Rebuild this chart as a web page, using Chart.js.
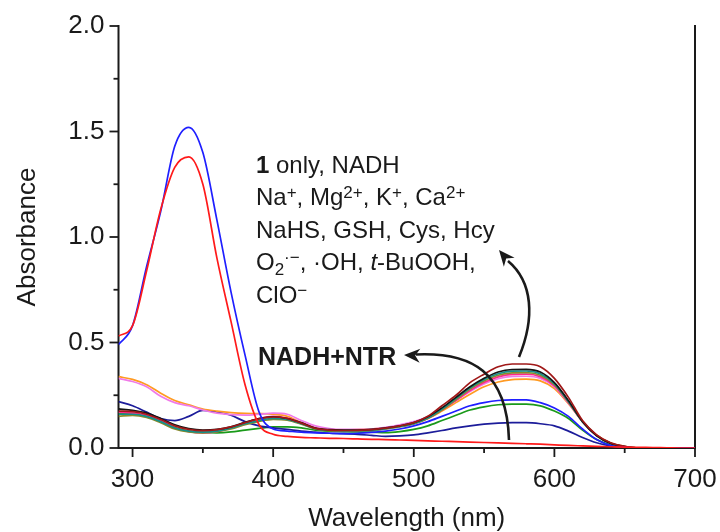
<!DOCTYPE html>
<html><head><meta charset="utf-8">
<script src="https://cdn.jsdelivr.net/npm/chart.js@4/dist/chart.umd.min.js"></script>
<style>html,body{margin:0;padding:0;background:#fff;}canvas{display:block;}</style>
</head><body>
<canvas id="c" width="720" height="532"></canvas>
<script>
// ---------- data ----------
const wavelengths = [290,300,310,320,330,340,350,360,370,380,390,400,410,420,430,440,450,460,470,480,490,500,
                     510,520,530,540,550,560,570,580,590,600,610,620,630,640,650,660,670,680,690,700];
const xTickLabels = [300,400,500,600,700];
const yTickLabels = [0.0,0.5,1.0,1.5,2.0];

const absNadhNtr = [0.53,0.58,0.84,1.13,1.33,1.38,1.25,0.90,0.60,0.30,0.11,0.065,0.055,0.05,0.048,0.046,0.045,0.043,0.041,0.04,0.038,0.036,
                    0.034,0.032,0.03,0.028,0.026,0.024,0.022,0.02,0.018,0.015,0.012,0.01,0.008,0.006,0.004,0.003,0.002,0.001,0,0];
const absNadh    = [0.49,0.58,0.86,1.12,1.43,1.52,1.40,1.08,0.74,0.44,0.17,0.09,0.08,0.075,0.072,0.07,0.068,0.07,0.074,0.08,0.09,0.105,
                    0.125,0.15,0.175,0.20,0.215,0.225,0.228,0.228,0.215,0.19,0.15,0.09,0.04,0.012,0.003,0,0,0,0,0];
const absMaroon  = [0.175,0.172,0.16,0.135,0.105,0.088,0.082,0.087,0.10,0.12,0.138,0.147,0.14,0.118,0.093,0.085,0.083,0.084,0.087,0.094,0.105,0.12,
                    0.15,0.20,0.25,0.31,0.35,0.385,0.398,0.398,0.385,0.33,0.24,0.13,0.062,0.025,0.008,0,0,0,0,0];
const absBlack   = [0.185,0.178,0.165,0.14,0.11,0.092,0.085,0.088,0.10,0.122,0.14,0.148,0.14,0.12,0.095,0.087,0.085,0.085,0.088,0.095,0.105,0.12,
                    0.148,0.19,0.24,0.29,0.33,0.36,0.372,0.373,0.36,0.31,0.225,0.125,0.058,0.022,0.006,0,0,0,0,0];
const absTeal    = [0.16,0.16,0.15,0.125,0.095,0.08,0.075,0.08,0.095,0.115,0.13,0.14,0.135,0.115,0.092,0.084,0.082,0.082,0.085,0.092,0.102,0.116,
                    0.143,0.185,0.235,0.285,0.325,0.352,0.364,0.365,0.352,0.305,0.22,0.125,0.06,0.022,0.007,0,0,0,0,0];
const absOlive   = [0.15,0.155,0.145,0.12,0.09,0.076,0.072,0.077,0.09,0.11,0.126,0.136,0.132,0.113,0.09,0.082,0.08,0.08,0.083,0.09,0.1,0.114,
                    0.14,0.18,0.23,0.28,0.318,0.345,0.356,0.357,0.345,0.3,0.218,0.125,0.06,0.022,0.007,0,0,0,0,0];
const absMagenta = [0.17,0.165,0.155,0.13,0.095,0.078,0.072,0.078,0.095,0.12,0.14,0.15,0.142,0.12,0.095,0.085,0.082,0.083,0.086,0.092,0.102,0.115,
                    0.14,0.18,0.225,0.272,0.31,0.337,0.349,0.35,0.338,0.295,0.215,0.125,0.06,0.022,0.007,0,0,0,0,0];
const absViolet  = [0.33,0.315,0.29,0.245,0.215,0.20,0.18,0.165,0.158,0.156,0.16,0.165,0.16,0.13,0.105,0.092,0.088,0.088,0.09,0.098,0.11,0.125,
                    0.148,0.185,0.225,0.268,0.303,0.328,0.339,0.34,0.33,0.29,0.213,0.125,0.06,0.022,0.007,0,0,0,0,0];
const absOrange  = [0.338,0.325,0.30,0.26,0.225,0.205,0.185,0.175,0.168,0.164,0.163,0.16,0.15,0.12,0.095,0.087,0.086,0.087,0.09,0.095,0.105,0.12,
                    0.14,0.175,0.215,0.255,0.29,0.313,0.324,0.326,0.318,0.282,0.21,0.127,0.062,0.024,0.008,0,0,0,0,0];
const absNavy    = [0.22,0.20,0.17,0.14,0.13,0.15,0.178,0.17,0.155,0.125,0.105,0.095,0.088,0.08,0.075,0.07,0.068,0.065,0.06,0.055,0.057,0.062,
                    0.072,0.083,0.095,0.105,0.113,0.118,0.12,0.12,0.115,0.105,0.08,0.05,0.025,0.01,0.003,0,0,0,0,0];
const absGreen   = [0.165,0.163,0.15,0.125,0.097,0.08,0.074,0.072,0.076,0.085,0.093,0.10,0.10,0.095,0.085,0.08,0.077,0.076,0.075,0.073,0.078,0.088,
                    0.105,0.13,0.155,0.18,0.195,0.205,0.208,0.208,0.2,0.175,0.14,0.085,0.04,0.015,0.005,0,0,0,0,0];

// ---------- styles ----------
const FONT = "'Liberation Sans', Arial, sans-serif";
const INK = '#1a1a1a';
const curves = [
  {label:'NADH+NTR', values:absNadhNtr, color:'#ff1a1a'},
  {label:'NADH',     values:absNadh,    color:'#1f1fff'},
  {label:'s3',       values:absMaroon,  color:'#a01818'},
  {label:'s4',       values:absBlack,   color:'#141414'},
  {label:'s5',       values:absTeal,    color:'#13908c'},
  {label:'s6',       values:absOlive,   color:'#8a8a2a'},
  {label:'s7',       values:absMagenta, color:'#ff2a8a'},
  {label:'s8',       values:absViolet,  color:'#f07ae8'},
  {label:'s9',       values:absOrange,  color:'#ff9a22'},
  {label:'s10',      values:absNavy,    color:'#1c1c9a'},
  {label:'s11',      values:absGreen,   color:'#1a9a1a'}
];

const datasets = curves.map(c => ({
  label: c.label,
  data: wavelengths.map((w,i) => ({x:w, y:c.values[i]})),
  borderColor: c.color,
  borderWidth: 1.7,
  pointRadius: 0,
  fill: false,
  cubicInterpolationMode: 'monotone'
}));

function isMajor(v, step){ return Math.abs(v/step - Math.round(v/step)) < 1e-6; }

const frame = {
  id: 'frame',
  beforeDatasetsDraw(chart){
    const {ctx, chartArea:a, scales:{x, y}} = chart;
    ctx.save();
    ctx.strokeStyle = INK; ctx.lineWidth = 2; ctx.lineCap = 'square';
    ctx.beginPath();
    ctx.moveTo(a.left, a.top); ctx.lineTo(a.left, a.bottom); ctx.lineTo(a.right, a.bottom); ctx.lineTo(a.right, a.top);
    ctx.stroke();
    ctx.lineCap = 'butt'; ctx.lineWidth = 1.8;
    y.ticks.forEach(t => {
      const py = y.getPixelForValue(t.value);
      const len = isMajor(t.value, 0.5) ? 9 : 5;
      ctx.beginPath(); ctx.moveTo(a.left, py); ctx.lineTo(a.left - len, py); ctx.stroke();
    });
    x.ticks.forEach(t => {
      if (!isMajor(t.value, 50)) return;
      const px = x.getPixelForValue(t.value);
      const len = isMajor(t.value, 100) ? 9 : 5;
      ctx.beginPath(); ctx.moveTo(px, a.bottom); ctx.lineTo(px, a.bottom + len); ctx.stroke();
    });
    ctx.restore();
  }
};

const notes = {
  id: 'notes',
  afterDraw(chart){
    const {ctx} = chart;
    ctx.save();
    ctx.fillStyle = INK; ctx.textBaseline = 'alphabetic'; ctx.textAlign = 'left';
    function rich(x0, base, segs){
      let cx = x0;
      segs.forEach(s => {
        const size = (s.sup || s.sub) ? 17 : 24;
        ctx.font = (s.i ? 'italic ' : '') + (s.b ? 'bold ' : '') + size + 'px ' + FONT;
        const dy = s.sup ? -7 : (s.sub ? 5 : 0);
        ctx.fillText(s.t, cx, base + dy);
        cx += ctx.measureText(s.t).width;
      });
    }
    const tx = 256;
    rich(tx, 172.5, [{t:'1', b:1}, {t:' only, NADH'}]);
    rich(tx, 205, [{t:'Na'},{t:'+',sup:1},{t:', Mg'},{t:'2+',sup:1},{t:', K'},{t:'+',sup:1},{t:', Ca'},{t:'2+',sup:1}]);
    rich(tx, 237.5, [{t:'NaHS, GSH, Cys, Hcy'}]);
    rich(tx, 270, [{t:'O'},{t:'2',sub:1},{t:'\u00B7\u2212',sup:1},{t:', \u00B7OH, '},{t:'t',i:1},{t:'-BuOOH,'}]);
    rich(tx, 303, [{t:'ClO'},{t:'\u2212',sup:1}]);
    ctx.font = 'bold 25px ' + FONT;
    ctx.fillText('NADH+NTR', 258, 365);

    function head(tx_, ty_, ang){
      const L = 16, W = 7;
      const bx = tx_ - L*Math.cos(ang), by = ty_ - L*Math.sin(ang);
      const nx = -Math.sin(ang), ny = Math.cos(ang);
      const mx = tx_ - 0.7*L*Math.cos(ang), my = ty_ - 0.7*L*Math.sin(ang);
      ctx.beginPath();
      ctx.moveTo(tx_, ty_);
      ctx.lineTo(bx + W*nx, by + W*ny);
      ctx.lineTo(mx, my);
      ctx.lineTo(bx - W*nx, by - W*ny);
      ctx.closePath(); ctx.fill();
    }
    ctx.strokeStyle = INK; ctx.lineWidth = 2.6;
    ctx.beginPath();
    ctx.moveTo(509, 440);
    ctx.bezierCurveTo(507, 372, 472, 352, 416, 354.5);
    ctx.stroke();
    head(404, 355, Math.PI + 0.05);

    ctx.beginPath();
    ctx.moveTo(519, 357);
    ctx.bezierCurveTo(535, 318, 533, 282, 508, 261);
    ctx.stroke();
    head(499, 250, Math.atan2(-12, -10));
    ctx.restore();
  }
};

new Chart(document.getElementById('c'), {
  type: 'line',
  data: { datasets },
  plugins: [frame, notes],
  options: {
    responsive: false,
    devicePixelRatio: 1,
    animation: false,
    layout: { padding: { left: 12, right: 25, top: 26, bottom: 0 } },
    plugins: { legend: { display: false }, tooltip: { enabled: false } },
    scales: {
      x: {
        type: 'linear', min: 290, max: 700,
        afterFit: s => { s.height = 84; s.paddingLeft = 0; s.paddingRight = 0; },
        border: { display: false },
        grid: { display: true, drawOnChartArea: false, drawTicks: true, tickLength: 9, color: 'rgba(0,0,0,0)' },
        ticks: {
          stepSize: 50, includeBounds: false, autoSkip: false, maxRotation: 0, padding: 7,
          color: INK, font: { family: FONT, size: 26 },
          callback: v => xTickLabels.includes(v) ? String(v) : ''
        },
        title: { display: true, text: 'Wavelength (nm)', color: INK, font: { family: FONT, size: 26, lineHeight: 1.0 }, padding: { top: 0, bottom: 0 } }
      },
      y: {
        min: 0, max: 2,
        afterFit: s => { s.width = 106.5; s.paddingTop = 0; s.paddingBottom = 0; },
        border: { display: false },
        grid: { display: true, drawOnChartArea: false, drawTicks: true, tickLength: 9, color: 'rgba(0,0,0,0)' },
        ticks: {
          stepSize: 0.25, autoSkip: false, padding: 5,
          color: INK, font: { family: FONT, size: 26 },
          callback: v => yTickLabels.some(t => Math.abs(t - v) < 1e-6) ? v.toFixed(1) : ''
        },
        title: { display: true, text: 'Absorbance', color: INK, font: { family: FONT, size: 26 }, padding: { top: 0, bottom: 0 } }
      }
    }
  }
});
</script>
</body></html>
